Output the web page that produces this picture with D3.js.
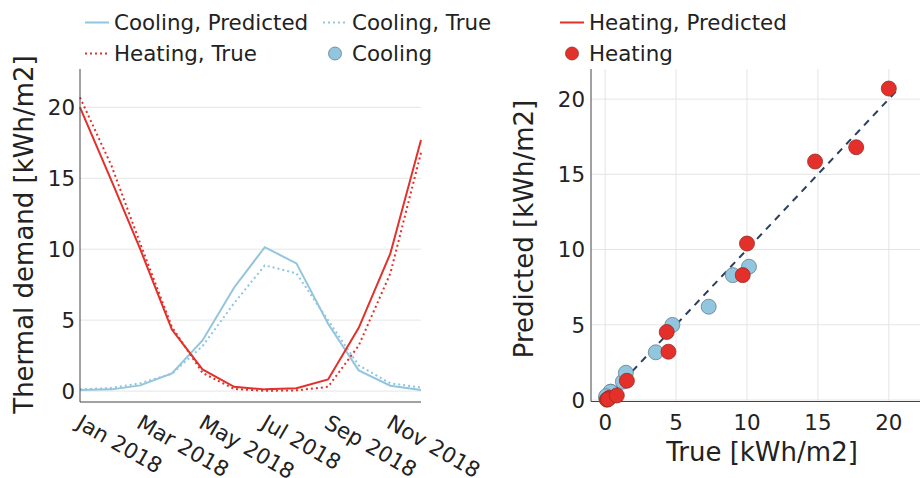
<!DOCTYPE html>
<html>
<head>
<meta charset="utf-8">
<script src="https://cdn.jsdelivr.net/npm/d3@7/dist/d3.min.js"></script>
<style>
  html, body { margin: 0; padding: 0; background: #fff; }
  svg { display: block; font-family: "DejaVu Sans", Verdana, sans-serif; }
</style>
</head>
<body>
<svg id="chart" width="920" height="478"></svg>
<script>
// Monthly thermal demand, 2018
const months = ["2018-01-01","2018-02-01","2018-03-01","2018-04-01","2018-05-01","2018-06-01",
                "2018-07-01","2018-08-01","2018-09-01","2018-10-01","2018-11-01","2018-12-01"];
const coolingPredicted = [0.07, 0.12, 0.40, 1.25, 3.57, 7.30, 10.14, 9.00, 4.74, 1.46, 0.38, 0.07];
const coolingTrue      = [0.12, 0.22, 0.55, 1.22, 3.17, 6.20, 8.86, 8.30, 4.99, 1.81, 0.55, 0.25];
const heatingPredicted = [20.0, 14.8, 10.0, 4.34, 1.53, 0.30, 0.12, 0.20, 0.82, 4.46, 9.70, 17.7];
const heatingTrue      = [20.7, 15.85, 10.4, 4.52, 1.28, 0.15, 0.02, 0.05, 0.30, 3.21, 8.30, 16.8];

const valueTicks = [0, 5, 10, 15, 20];
const dateTicks = ["2018-01-01","2018-03-01","2018-05-01","2018-07-01","2018-09-01","2018-11-01"];

const BLUE = "#92c5de", RED = "#e3302b";
const FS = 21.4, TITLE_FS = 26;
const parse = d3.utcParse("%Y-%m-%d");
const fmtDate = d3.utcFormat("%b %Y");

const svg = d3.select("#chart");

// ---------- left panel: monthly series ----------
const lx = d3.scaleUtc().domain([parse(months[0]), parse(months[months.length - 1])]).range([80, 421]);
const ly = d3.scaleLinear().domain([-0.77, 22.7]).range([402, 69]);

const left = svg.append("g");
left.append("g").selectAll("line").data(valueTicks).join("line")
  .attr("x1", 80).attr("x2", 421)
  .attr("y1", d => ly(d)).attr("y2", d => ly(d))
  .attr("stroke", "#e5e5e5").attr("stroke-width", 1);

const series = [
  { values: coolingTrue,      color: BLUE, dash: "2,3" },
  { values: coolingPredicted, color: BLUE, dash: null },
  { values: heatingTrue,      color: RED,  dash: "2,3" },
  { values: heatingPredicted, color: RED,  dash: null }
];
const line = d3.line().x(d => lx(d[0])).y(d => ly(d[1]));
series.forEach(s => {
  left.append("path")
    .datum(months.map((m, i) => [parse(m), s.values[i]]))
    .attr("d", line)
    .attr("fill", "none")
    .attr("stroke", s.color)
    .attr("stroke-width", 2)
    .attr("stroke-dasharray", s.dash);
});

// axis lines
left.append("line").attr("x1", 80).attr("x2", 80).attr("y1", 69).attr("y2", 402)
  .attr("stroke", "#444").attr("stroke-width", 1);
left.append("line").attr("x1", 80).attr("x2", 421).attr("y1", 402).attr("y2", 402)
  .attr("stroke", "#444").attr("stroke-width", 1);

left.append("g").selectAll("text").data(valueTicks).join("text")
  .attr("x", 75).attr("y", d => ly(d) + 7.8)
  .attr("text-anchor", "end").attr("font-size", FS).attr("fill", "#222")
  .text(d => d);

left.append("g").selectAll("text").data(dateTicks).join("text")
  .attr("transform", d => `translate(${lx(parse(d)) - 5},427) rotate(30)`)
  .attr("text-anchor", "start").attr("font-size", FS).attr("fill", "#222")
  .text(d => fmtDate(parse(d)));

left.append("text")
  .attr("transform", "translate(33,234.5) rotate(-90)")
  .attr("text-anchor", "middle").attr("font-size", TITLE_FS).attr("fill", "#222")
  .text("Thermal demand [kWh/m2]");

// ---------- right panel: predicted vs true ----------
const sx = d3.scaleLinear().domain([-1, 22.2]).range([591, 920]);
const sy = d3.scaleLinear().domain([-0.1, 22.0]).range([401.5, 69]);

const right = svg.append("g");
right.append("g").selectAll("line").data(valueTicks).join("line")
  .attr("x1", 591).attr("x2", 920)
  .attr("y1", d => sy(d)).attr("y2", d => sy(d))
  .attr("stroke", "#e5e5e5");
right.append("g").selectAll("line").data(valueTicks).join("line")
  .attr("x1", d => sx(d)).attr("x2", d => sx(d))
  .attr("y1", 69).attr("y2", 401.5)
  .attr("stroke", "#e5e5e5");

right.append("line").attr("x1", 591).attr("x2", 591).attr("y1", 69).attr("y2", 401.5)
  .attr("stroke", "#444");
right.append("line").attr("x1", 591).attr("x2", 920).attr("y1", 401.5).attr("y2", 401.5)
  .attr("stroke", "#444");

const allVals = coolingPredicted.concat(coolingTrue, heatingPredicted, heatingTrue);
const lo = d3.min(allVals), hi = d3.max(allVals);
right.append("line")
  .attr("x1", sx(lo)).attr("y1", sy(lo)).attr("x2", sx(hi)).attr("y2", sy(hi))
  .attr("stroke", "#2a3f5f").attr("stroke-width", 2).attr("stroke-dasharray", "7,6");

const scatterSets = [
  { xs: coolingPredicted, ys: coolingTrue, fill: BLUE, stroke: "#5f7f8f" },
  { xs: heatingPredicted, ys: heatingTrue, fill: RED,  stroke: "#9a2a24" }
];
scatterSets.forEach(s => {
  right.append("g").selectAll("circle").data(s.xs.map((v, i) => [v, s.ys[i]])).join("circle")
    .attr("cx", d => sx(d[0])).attr("cy", d => sy(d[1])).attr("r", 7.5)
    .attr("fill", s.fill).attr("stroke", s.stroke).attr("stroke-width", 0.8);
});

right.append("g").selectAll("text").data(valueTicks).join("text")
  .attr("x", 585).attr("y", d => sy(d) + 7.8)
  .attr("text-anchor", "end").attr("font-size", FS).attr("fill", "#222")
  .text(d => d);
right.append("g").selectAll("text").data(valueTicks).join("text")
  .attr("x", d => sx(d)).attr("y", 429.5)
  .attr("text-anchor", "middle").attr("font-size", FS).attr("fill", "#222")
  .text(d => d);

right.append("text")
  .attr("x", 762).attr("y", 461)
  .attr("text-anchor", "middle").attr("font-size", TITLE_FS).attr("fill", "#222")
  .text("True [kWh/m2]");
right.append("text")
  .attr("transform", "translate(533,229) rotate(-90)")
  .attr("text-anchor", "middle").attr("font-size", TITLE_FS).attr("fill", "#222")
  .text("Predicted [kWh/m2]");

// ---------- legend ----------
const legendItems = [
  { label: "Cooling, Predicted", kind: "line", color: BLUE, dash: null, x: 85,  y: 30.3 },
  { label: "Cooling, True",      kind: "line", color: BLUE, dash: "2,3", x: 323, y: 30.3 },
  { label: "Heating, Predicted", kind: "line", color: RED,  dash: null, x: 560, y: 30.3 },
  { label: "Heating, True",      kind: "line", color: RED,  dash: "2,3", x: 85,  y: 61.3 },
  { label: "Cooling",            kind: "dot",  color: BLUE, stroke: "#5f7f8f", x: 323, y: 61.3 },
  { label: "Heating",            kind: "dot",  color: RED,  stroke: "#9a2a24", x: 560, y: 61.3 }
];
const legend = svg.append("g");
legendItems.forEach(it => {
  const g = legend.append("g");
  const cy = it.y - 7.8;
  if (it.kind === "line") {
    g.append("line").attr("x1", it.x).attr("x2", it.x + 24).attr("y1", cy).attr("y2", cy)
      .attr("stroke", it.color).attr("stroke-width", 2).attr("stroke-dasharray", it.dash);
  } else {
    g.append("circle").attr("cx", it.x + 12).attr("cy", cy).attr("r", 6.5)
      .attr("fill", it.color).attr("stroke", it.stroke).attr("stroke-width", 0.8);
  }
  g.append("text").attr("x", it.x + 29).attr("y", it.y)
    .attr("font-size", FS).attr("fill", "#222").text(it.label);
});
</script>
</body>
</html>
